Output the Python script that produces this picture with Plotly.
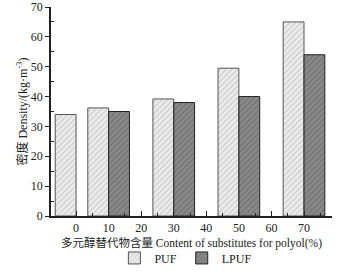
import plotly.graph_objects as go

content = [0, 10, 30, 50, 70]
puf = [34.0, 36.2, 39.2, 49.5, 65.0]
lpuf_content = [10, 30, 50, 70]
lpuf = [35.0, 38.0, 40.0, 54.0]
x_ticks = [0, 10, 20, 30, 40, 50, 60, 70]
y_ticks = [0, 10, 20, 30, 40, 50, 60, 70]
x_title = "多元醇替代物含量 Content of substitutes for polyol(%)"
y_title = "密度 Density/(kg·m<sup>-3</sup>)"

W = 6.4
fig = go.Figure()
fig.add_trace(go.Bar(
    x=content, y=puf, name="PUF", width=W, offset=-W,
    marker=dict(color="#ededed", line=dict(color="#555555", width=1),
                pattern=dict(shape="/", fgcolor="#a8a8a8", bgcolor="#ededed", size=4, solidity=0.3)),
))
fig.add_trace(go.Bar(
    x=lpuf_content, y=lpuf, name="LPUF", width=W, offset=0,
    marker=dict(color="#808080", line=dict(color="#222222", width=1),
                pattern=dict(shape="/", fgcolor="#555555", bgcolor="#8a8a8a", size=4, solidity=0.3)),
))

FAM = "Liberation Serif"
MIX = "Liberation Serif, Noto Sans CJK SC"
tfont = dict(family=FAM, size=12, color="#222")
fig.update_layout(
    width=341, height=275,
    margin=dict(l=51, r=9, t=7, b=59),
    paper_bgcolor="white", plot_bgcolor="white",
    barmode="overlay",
    font=tfont,
    showlegend=True,
    legend=dict(orientation="h", x=0.48, xanchor="center", yref="container", y=0.062, yanchor="middle",
                font=dict(family=FAM, size=12, color="#222"),
                tracegroupgap=0, bgcolor="rgba(0,0,0,0)"),
    xaxis=dict(
        range=[-7.7, 78.6], tickvals=x_ticks, ticktext=[str(v) for v in x_ticks],
        showline=True, linecolor="#222", linewidth=1.5, mirror=False, automargin=False,
        ticks="inside", ticklen=5, tickcolor="#222", showgrid=False, zeroline=False,
        minor=dict(tickvals=[5, 15, 25, 35, 45, 55, 65, 75], ticks="inside", ticklen=3, tickcolor="#222"),
        tickfont=tfont,
    ),
    yaxis=dict(
        range=[0, 70], tickvals=y_ticks,
        showline=True, linecolor="#222", linewidth=1.5, automargin=False,
        ticks="outside", ticklen=4, tickcolor="#222", showgrid=False, zeroline=False,
        minor=dict(tickvals=[5, 15, 25, 35, 45, 55, 65], ticks="inside", ticklen=3, tickcolor="#222"),
        tickfont=tfont,
    ),
    annotations=[
        dict(text=x_title, xref="paper", yref="paper", x=0.5, y=-0.129, xanchor="center", yanchor="middle",
             showarrow=False, font=dict(family=MIX, size=11.5, color="#222")),
        dict(text=y_title, xref="paper", yref="paper", x=-0.103, y=0.5, xanchor="center", yanchor="middle",
             textangle=-90, showarrow=False, font=dict(family=MIX, size=12, color="#222")),
    ],
)
fig.write_html("out.html", config={"displayModeBar": False},
               post_script="document.body.style.margin='0';")
